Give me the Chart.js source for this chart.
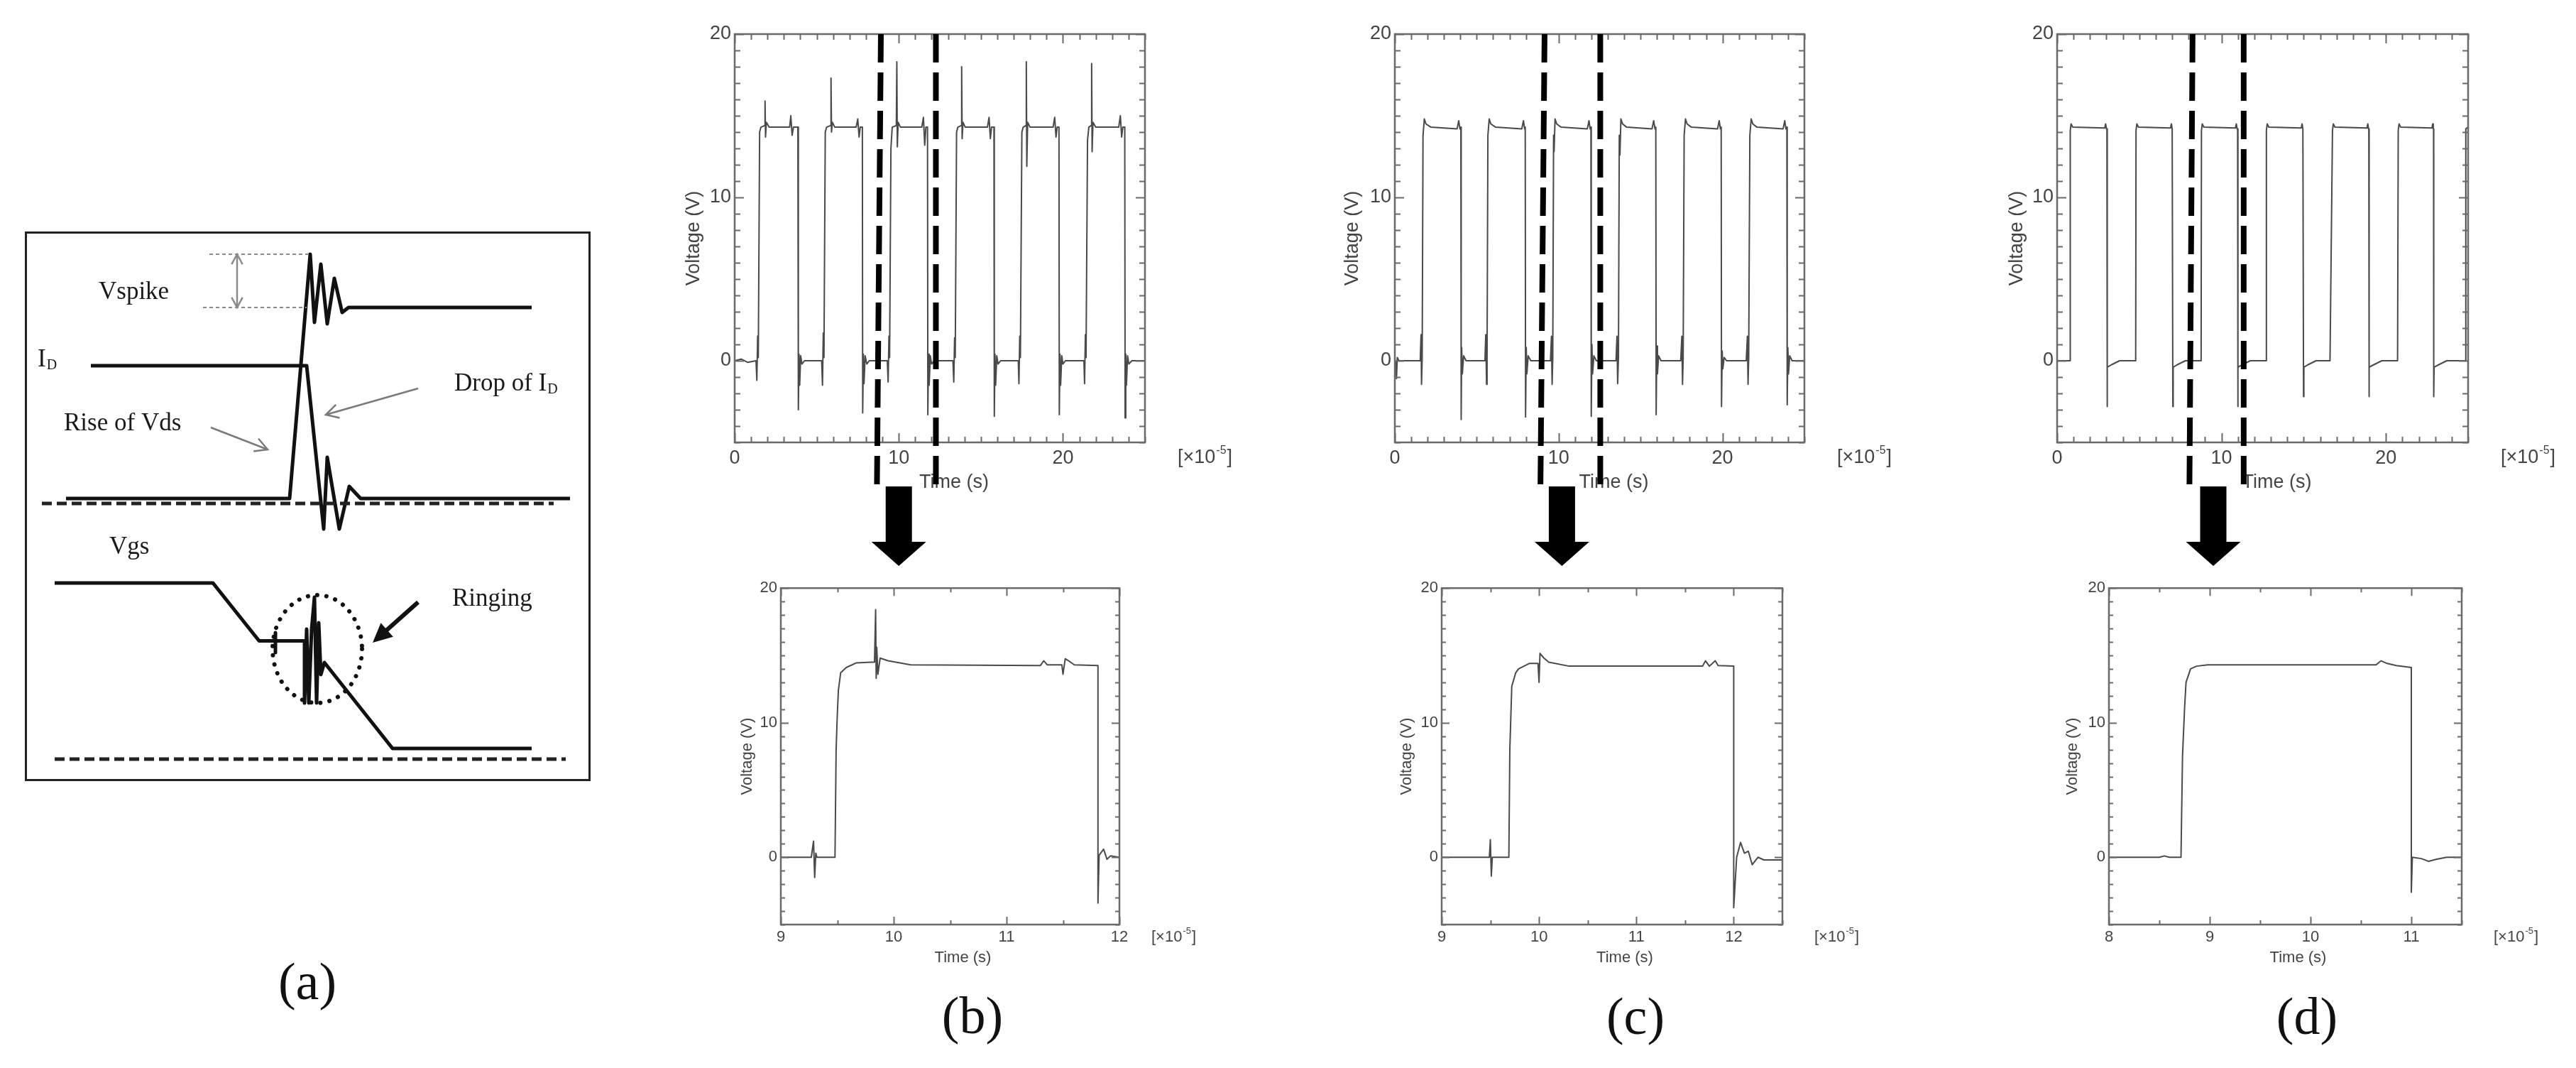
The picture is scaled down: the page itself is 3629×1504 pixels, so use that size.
<!DOCTYPE html>
<html><head><meta charset="utf-8">
<script src="https://cdn.jsdelivr.net/npm/chart.js@4.4.1/dist/chart.umd.min.js"></script>
<style>
html,body{margin:0;padding:0;background:#fff;}
body{width:3629px;height:1504px;position:relative;overflow:hidden;}
canvas{position:absolute;}
.plbl{position:absolute;font-family:'Liberation Serif','DejaVu Serif',serif;font-size:74px;color:#111;transform:translate(-50%,-50%);line-height:1;white-space:nowrap;}
</style></head><body>
<canvas id="ca"></canvas>
<canvas id="tb"></canvas><canvas id="tc"></canvas><canvas id="td"></canvas>
<canvas id="bb"></canvas><canvas id="bc"></canvas><canvas id="bd"></canvas>
<div class="plbl" style="left:433px;top:1382px">(a)</div>
<div class="plbl" style="left:1370px;top:1430px">(b)</div>
<div class="plbl" style="left:2304px;top:1431px">(c)</div>
<div class="plbl" style="left:3250px;top:1431px">(d)</div>
<script>
// ================= DATA =================
// Top traces: [time (x1e-5 s), voltage (V)]
const topB = [[0,0],[0.4,0.1],[0.8,-0.1],[1.3,0],[1.35,-1.2],[1.4,1.5],[1.44,0.2],[1.52,14.0],[1.6,14.3],[1.82,14.4],[1.85,15.9],[1.88,13.7],[1.93,14.6],[2.1,14.3],[3.35,14.3],[3.42,15.0],[3.5,13.8],[3.58,14.3],[3.85,14.3],[3.88,-3.0],[3.92,0.4],[3.96,-1.5],[4.02,0.3],[4.1,-0.2],[4.25,0],
[5.3,0],[5.35,-1.5],[5.4,1.7],[5.44,0.2],[5.52,14.0],[5.6,14.3],[5.84,14.4],[5.87,17.3],[5.9,14.0],[5.95,14.6],[6.1,14.3],[7.4,14.3],[7.5,14.8],[7.58,13.7],[7.65,14.3],[7.78,14.3],[7.8,-3.2],[7.84,0.4],[7.88,-1.4],[7.95,0.3],[8.05,-0.2],[8.2,0],
[9.3,0],[9.35,-1.3],[9.4,1.5],[9.44,0.2],[9.52,13.0],[9.6,14.3],[9.85,14.4],[9.88,18.3],[9.91,13.1],[9.96,14.6],[10.1,14.3],[11.4,14.3],[11.5,14.9],[11.58,13.2],[11.65,14.3],[11.75,14.3],[11.77,-3.3],[11.81,0.4],[11.85,-1.5],[11.92,0.3],[12.0,-0.2],[12.15,0],
[13.3,0],[13.35,-1.3],[13.4,1.4],[13.44,0.2],[13.52,14.0],[13.6,14.3],[13.8,14.4],[13.83,18.0],[13.86,13.6],[13.91,14.6],[14.05,14.3],[15.4,14.3],[15.5,14.9],[15.58,13.6],[15.65,14.3],[15.8,14.3],[15.82,-3.4],[15.86,0.4],[15.9,-1.5],[15.97,0.3],[16.05,-0.2],[16.2,0],
[17.28,0],[17.32,-1.4],[17.37,1.5],[17.41,0.2],[17.5,14.0],[17.58,14.3],[17.74,14.4],[17.77,18.3],[17.8,11.9],[17.85,14.6],[18.0,14.3],[19.4,14.3],[19.5,14.9],[19.58,13.7],[19.65,14.3],[19.76,14.3],[19.78,-3.3],[19.82,0.4],[19.86,-1.5],[19.93,0.3],[20.0,-0.2],[20.15,0],
[21.28,0],[21.32,-1.4],[21.37,1.6],[21.41,0.2],[21.5,13.5],[21.58,14.3],[21.72,14.4],[21.75,18.2],[21.78,12.8],[21.83,14.6],[22.0,14.3],[23.4,14.3],[23.5,15.0],[23.58,13.7],[23.65,14.3],[23.77,14.3],[23.79,-3.5],[23.83,0.4],[23.87,-1.5],[23.94,0.3],[24.02,-0.2],[24.2,0],[25,0]];

const topC = [[0,0],[0.05,0],[0.1,-1.1],[0.15,0.2],[0.25,0],[1.55,0],[1.6,1.6],[1.63,-1.45],[1.67,0.2],[1.72,13.8],[1.8,14.8],[1.9,14.5],[2.2,14.3],[3.8,14.2],[3.9,14.7],[3.97,14.2],[4.03,14.3],[4.05,-3.6],[4.08,0.8],[4.12,-0.8],[4.2,0.3],[4.35,0],
[5.5,0],[5.55,1.6],[5.6,-1.45],[5.63,0.2],[5.68,13.8],[5.76,14.8],[5.86,14.5],[6.15,14.3],[7.75,14.2],[7.85,14.7],[7.92,14.2],[7.96,14.3],[7.98,-3.45],[8.02,0.8],[8.06,-0.8],[8.14,0.3],[8.3,0],
[9.5,0],[9.56,1.5],[9.6,-1.45],[9.64,0.2],[9.69,13.8],[9.72,12.8],[9.78,14.8],[9.88,14.5],[10.15,14.3],[11.75,14.2],[11.85,14.7],[11.92,14.2],[11.97,14.3],[11.99,-3.4],[12.03,1.0],[12.07,-0.8],[12.15,0.3],[12.3,0],
[13.5,0],[13.56,1.5],[13.6,-1.4],[13.65,0.2],[13.7,13.8],[13.74,12.6],[13.8,14.8],[13.9,14.5],[14.15,14.3],[15.7,14.2],[15.8,14.7],[15.88,14.2],[15.93,14.3],[15.95,-3.3],[15.99,0.9],[16.03,-0.8],[16.1,0.3],[16.25,0],
[17.45,0],[17.52,1.5],[17.56,-1.45],[17.6,0.2],[17.66,13.8],[17.74,14.8],[17.84,14.5],[18.1,14.3],[19.7,14.2],[19.8,14.7],[19.87,14.2],[19.92,14.3],[19.94,-2.8],[19.98,0.6],[20.02,-0.5],[20.1,0.2],[20.25,0],
[21.45,0],[21.52,1.5],[21.56,-1.45],[21.6,0.2],[21.67,13.8],[21.75,14.8],[21.85,14.5],[22.1,14.3],[23.7,14.2],[23.8,14.7],[23.87,14.2],[23.93,14.3],[23.95,-2.7],[23.99,0.8],[24.03,-0.8],[24.1,0.3],[24.25,0],[25,0]];

const topD = [[0,0],[0.78,0],[0.8,14.1],[0.85,14.5],[0.95,14.3],[2.9,14.25],[2.95,14.5],[3.0,14.2],[3.03,14.2],[3.04,-2.8],[3.06,-0.4],[3.3,-0.25],[3.8,0],
[4.78,0],[4.8,14.1],[4.85,14.5],[4.95,14.3],[6.9,14.25],[6.95,14.5],[7.0,14.2],[7.03,14.2],[7.04,-2.8],[7.06,-0.4],[7.3,-0.25],[7.8,0],
[8.76,0],[8.78,14.1],[8.83,14.5],[8.93,14.3],[10.85,14.25],[10.9,14.5],[10.95,14.2],[10.98,14.2],[10.99,-2.8],[11.01,-0.4],[11.25,-0.25],[11.75,0],
[12.71,0],[12.73,14.1],[12.78,14.5],[12.88,14.3],[14.85,14.25],[14.9,14.5],[14.95,14.2],[14.98,14.2],[14.99,-2.2],[15.01,-0.4],[15.25,-0.25],[15.75,0],
[16.6,0],[16.75,14.1],[16.8,14.5],[16.9,14.3],[18.85,14.25],[18.9,14.5],[18.94,14.2],[18.96,14.2],[18.97,-2.2],[18.99,-0.4],[19.25,-0.25],[19.75,0],
[20.71,0],[20.75,14.1],[20.8,14.5],[20.9,14.3],[22.8,14.25],[22.85,14.5],[22.88,14.2],[22.9,14.2],[22.91,-2.2],[22.93,-0.4],[23.2,-0.25],[23.7,0],
[24.83,0],[24.86,14.2],[25,14.3]];

// Zoomed traces
const botB = [[9,0],[9.27,0],[9.29,1.2],[9.3,-1.5],[9.31,0.3],[9.32,0],[9.48,0],[9.49,8.0],[9.5,10.5],[9.51,12.4],[9.53,13.7],[9.58,14.1],[9.67,14.45],[9.8,14.5],[9.83,14.5],[9.84,18.4],[9.845,13.3],[9.85,15.6],[9.86,13.6],[9.88,14.8],[9.95,14.6],[10.15,14.3],[11.3,14.25],[11.33,14.6],[11.36,14.3],[11.49,14.3],[11.5,13.6],[11.52,14.75],[11.55,14.6],[11.6,14.3],[11.81,14.25],[11.81,-3.4],[11.82,0.15],[11.86,0.6],[11.89,-0.15],[11.92,0.1],[12,0]];
const botC = [[9,0],[9.49,0],[9.5,1.3],[9.51,-1.4],[9.52,0],[9.69,0],[9.7,8.0],[9.72,12.7],[9.76,13.7],[9.79,14.0],[9.9,14.4],[9.99,14.4],[10.0,13.0],[10.01,15.15],[10.05,14.8],[10.1,14.5],[10.31,14.2],[11.68,14.2],[11.71,14.6],[11.75,14.2],[11.81,14.6],[11.84,14.25],[12.0,14.2],[12.0,-3.75],[12.03,0],[12.07,1.1],[12.11,0.3],[12.15,0.45],[12.19,-0.55],[12.25,0],[12.31,-0.2],[12.5,-0.2]];
const botD = [[8,0],[8.5,0],[8.55,0.1],[8.6,0],[8.715,0],[8.73,7.5],[8.75,11.0],[8.765,13.0],[8.81,14.0],[8.87,14.2],[8.98,14.3],[10.65,14.3],[10.7,14.6],[10.76,14.4],[10.85,14.25],[11.0,14.1],[11.0,-2.6],[11.01,0],[11.1,-0.1],[11.17,-0.3],[11.25,-0.15],[11.35,0],[11.5,0]];

// Tick labels
const topXTicks = [0, 10, 20];
const botBXTicks = [9, 10, 11, 12];
const botCXTicks = [9, 10, 11, 12];
const botDXTicks = [8, 9, 10, 11];
const yTicks = [0, 10, 20];

// Zoom window markers (dashed lines) in top plots: [value at top, value at bottom]
const topBMarks = [[8.91, 8.67], [12.26, 12.26]];
const topCMarks = [[9.14, 8.89], [12.54, 12.54]];
const topDMarks = [[8.24, 8.05], [11.35, 11.35]];
const topBArrowAt = 10.0, topCArrowAt = 10.2, topDArrowAt = 9.5;

// Schematic (a) in diagram units (x: time, y: level)
const diagVds = [[58,398],[373,398],[402,742],[408,646],[417,728],[426,644],[436,708],[447,660],[456,667],[714,667]];
const diagId = [[93,585],[397,585],[421,355],[426,456],[443,355],[457,415],[473,398],[768,398]];
const diagVgs = [[42,279],[265,279],[330,197.5],[353,197.5],[353,181],[353,209],[353,197.5],[394,197.5],[394,110],[397,214],[400,110],[404,214],[408,259],[411,110],[414,223],[417,150],[422,167],[518,46],[714,46]];
const diagBase1 = [[24,391],[745,391]];
const diagBase2 = [[42,31],[762,31]];
const diagGuideTop = [[260,742],[403,742]];
const diagGuideBot = [[251,667],[397,667]];

// ================= RENDER =================
Chart.defaults.animation = false;
const SANS = "'Liberation Sans', Arial, sans-serif";
const SERIF = "'Liberation Serif', 'DejaVu Serif', serif";

function place(id, left, top, w, h) {
  const c = document.getElementById(id);
  c.width = w; c.height = h;
  c.style.left = left + 'px'; c.style.top = top + 'px';
  c.style.width = w + 'px'; c.style.height = h + 'px';
  return c;
}

function isMult(v, m) { return Math.abs(v / m - Math.round(v / m)) < 1e-6; }

const framePlugin = {
  id: 'frame',
  afterDatasetsDraw(chart, args, o) {
    const {ctx, chartArea: {left, right, top, bottom}, scales: {x, y}} = chart;
    ctx.save();
    ctx.strokeStyle = '#6a6a6a';
    ctx.lineWidth = 2;
    ctx.beginPath();
    const nx = Math.round((x.max - x.min) / o.xStep);
    for (let i = 0; i <= nx; i++) {
      const v = x.min + i * o.xStep;
      const p = Math.round(x.getPixelForValue(v)) + 0.5;
      const L = isMult(v, o.xMajor) ? o.majorLen : o.minorLen;
      ctx.moveTo(p, bottom); ctx.lineTo(p, bottom - L);
      ctx.moveTo(p, top); ctx.lineTo(p, top + L);
    }
    const ny = Math.round((y.max - y.min) / o.yStep);
    for (let i = 0; i <= ny; i++) {
      const v = y.min + i * o.yStep;
      const p = Math.round(y.getPixelForValue(v)) + 0.5;
      const L = isMult(v, o.yMajor) ? o.majorLen : o.minorLen;
      ctx.moveTo(left, p); ctx.lineTo(left + L, p);
      ctx.moveTo(right, p); ctx.lineTo(right - L, p);
    }
    ctx.stroke();
    ctx.lineWidth = 2.5;
    ctx.strokeRect(left, top, right - left, bottom - top);
    const fs = o.fontSize;
    ctx.fillStyle = '#444';
    ctx.textBaseline = 'middle';
    // x axis title, slightly right of centre as in the original
    ctx.textAlign = 'center';
    ctx.font = fs + 'px ' + SANS;
    ctx.fillText('Time (s)', (left + right) / 2 + o.titleDx, x.bottom - 4 - fs * 0.6);
    // unit label [x10^-5]
    const ux = right + o.unitDx, uy = bottom + o.unitDy;
    ctx.textAlign = 'left';
    const a = '[\u00d710';
    ctx.fillText(a, ux, uy);
    const wa = ctx.measureText(a).width;
    ctx.font = Math.round(fs * 0.6) + 'px ' + SANS;
    ctx.fillText('-5', ux + wa + 1, uy - fs * 0.38);
    const wb = ctx.measureText('-5').width;
    ctx.font = fs + 'px ' + SANS;
    ctx.fillText(']', ux + wa + wb + 2, uy);
    ctx.restore();
  }
};

const markPlugin = {
  id: 'marks',
  afterDraw(chart, args, o) {
    if (!o || !o.marks) return;
    const {ctx, chartArea, scales: {x}} = chart;
    ctx.save();
    ctx.strokeStyle = '#000'; ctx.lineWidth = 8; ctx.setLineDash([40, 14]);
    for (const [vt, vb] of o.marks) {
      ctx.beginPath();
      ctx.moveTo(x.getPixelForValue(vt), chartArea.top);
      ctx.lineTo(x.getPixelForValue(vb), o.markBottom);
      ctx.stroke();
    }
    ctx.setLineDash([]);
    const cx = x.getPixelForValue(o.arrowAt);
    ctx.fillStyle = '#000';
    ctx.beginPath();
    ctx.moveTo(cx - 18.5, o.arrowTop);
    ctx.lineTo(cx + 18.5, o.arrowTop);
    ctx.lineTo(cx + 18.5, o.arrowNeck);
    ctx.lineTo(cx + 38.5, o.arrowNeck);
    ctx.lineTo(cx, o.arrowTip);
    ctx.lineTo(cx - 38.5, o.arrowNeck);
    ctx.lineTo(cx - 18.5, o.arrowNeck);
    ctx.closePath();
    ctx.fill();
    ctx.restore();
  }
};

function scopeChart(L) {
  const c = place(L.id, L.left, L.top, L.canvasR - L.left, L.height);
  const font = {family: SANS, size: L.fs};
  return new Chart(c, {
    type: 'line',
    data: {datasets: [{
      data: L.pts.map(p => ({x: p[0], y: p[1]})),
      borderColor: '#4a4a4a', borderWidth: L.lw, pointRadius: 0,
      borderJoinStyle: 'round', tension: 0, fill: false
    }]},
    options: {
      responsive: false, animation: false, events: [],
      layout: {padding: {top: L.padTop, right: L.canvasR - L.plotR, bottom: L.padBottom, left: 0}},
      plugins: {
        legend: {display: false}, tooltip: {enabled: false},
        frame: {xStep: L.xStep, xMajor: L.xMajor, yStep: 1, yMajor: 10, minorLen: L.minorLen, majorLen: L.majorLen, fontSize: L.fs, unitDx: L.unitDx, unitDy: L.unitDy, titleDx: L.titleDx},
        marks: L.marks ? {marks: L.marks, arrowAt: L.arrowAt, markBottom: 682, arrowTop: 685, arrowNeck: 763, arrowTip: 797} : {}
      },
      scales: {
        x: {
          type: 'linear', min: L.xmin, max: L.xmax,
          grid: {display: false, drawTicks: false}, border: {display: false},
          afterBuildTicks: s => { s.ticks = L.xTicks.map(v => ({value: v})); },
          ticks: {autoSkip: false, maxRotation: 0, padding: L.tickPadX, font, color: '#444'},
          title: {display: false},
          afterFit: s => { s.height = L.xh; }
        },
        y: {
          type: 'linear', min: -5, max: 20,
          grid: {display: false, drawTicks: false}, border: {display: false},
          afterBuildTicks: s => { s.ticks = yTicks.map(v => ({value: v})); },
          ticks: {autoSkip: false, padding: 5, font, color: '#444'},
          title: {display: true, text: 'Voltage (V)', font, color: '#444', padding: {top: 4, bottom: 0}},
          afterFit: s => { s.width = L.yw; }
        }
      }
    },
    plugins: [framePlugin, markPlugin]
  });
}

const topCommon = {top: 0, height: 810, padTop: 48, padBottom: 110, xh: 77, fs: 27, lw: 2, xmin: 0, xmax: 25, xTicks: topXTicks, xStep: 1, xMajor: 10, minorLen: 8, majorLen: 13, unitDx: 46, unitDy: 22, tickPadX: 6, titleDx: 20};
scopeChart(Object.assign({}, topCommon, {id: 'tb', left: 957, yw: 78, plotR: 1613, canvasR: 1760, pts: topB, marks: topBMarks, arrowAt: topBArrowAt}));
scopeChart(Object.assign({}, topCommon, {id: 'tc', left: 1885, yw: 80, plotR: 2542, canvasR: 2690, pts: topC, marks: topCMarks, arrowAt: topCArrowAt}));
scopeChart(Object.assign({}, topCommon, {id: 'td', left: 2821, yw: 77, plotR: 3477, canvasR: 3629, pts: topD, marks: topDMarks, arrowAt: topDArrowAt}));

const botCommon = {top: 810, height: 570, padTop: 17, padBottom: 14, xh: 64, fs: 22, lw: 2, xStep: 0.5, xMajor: 1, minorLen: 6, majorLen: 11, unitDx: 45, unitDy: 18, tickPadX: 5, titleDx: 18};
scopeChart(Object.assign({}, botCommon, {id: 'bb', left: 1036, yw: 64, plotR: 1577, canvasR: 1700, pts: botB, xmin: 9, xmax: 12, xTicks: botBXTicks}));
scopeChart(Object.assign({}, botCommon, {id: 'bc', left: 1965, yw: 66, plotR: 2511, canvasR: 2630, pts: botC, xmin: 9, xmax: 12.5, xTicks: botCXTicks}));
scopeChart(Object.assign({}, botCommon, {id: 'bd', left: 2903, yw: 68, plotR: 3468, canvasR: 3600, pts: botD, xmin: 8, xmax: 11.5, xTicks: botDXTicks}));

// ---------- Schematic (a) ----------
const diagArrows = [
  {from: [262, 498], to: [342, 467], color: '#7a7a7a', width: 2.5, head: 'open', len: 20},
  {from: [554, 553], to: [424, 516], color: '#7a7a7a', width: 2.5, head: 'open', len: 20},
  {from: [554, 252], to: [490, 195], color: '#111', width: 6, head: 'filled', len: 30},
  {from: [299, 704], to: [299, 742], color: '#8a8a8a', width: 2.5, head: 'open', len: 16},
  {from: [299, 704], to: [299, 667], color: '#8a8a8a', width: 2.5, head: 'open', len: 16}
];
const diagEllipse = {cx: 412, cy: 186, rx: 63, ry: 76};
const diagTexts = [
  {t: 'Vspike', x: 104, y: 688},
  {t: 'I', sub: 'D', x: 18, y: 593},
  {t: 'Rise of Vds', x: 55, y: 503},
  {t: 'Drop of I', sub: 'D', x: 605, y: 559},
  {t: 'Vgs', x: 119, y: 329},
  {t: 'Ringing', x: 602, y: 256}
];

const diagPlugin = {
  id: 'diag',
  afterDraw(chart) {
    const {ctx, chartArea: ca, scales: {x, y}} = chart;
    const X = v => x.getPixelForValue(v), Y = v => y.getPixelForValue(v);
    ctx.save();
    ctx.strokeStyle = '#222'; ctx.lineWidth = 3;
    ctx.strokeRect(ca.left + 1.5, ca.top + 1.5, ca.right - ca.left - 3, ca.bottom - ca.top - 3);
    const e = diagEllipse;
    ctx.beginPath();
    ctx.ellipse(X(e.cx), Y(e.cy), Math.abs(X(e.cx + e.rx) - X(e.cx)), Math.abs(Y(e.cy + e.ry) - Y(e.cy)), 0, 0, Math.PI * 2);
    ctx.setLineDash([0.1, 13]); ctx.lineCap = 'round'; ctx.lineWidth = 6; ctx.strokeStyle = '#111';
    ctx.stroke();
    ctx.setLineDash([]); ctx.lineCap = 'butt';
    for (const a of diagArrows) {
      const x1 = X(a.from[0]), y1 = Y(a.from[1]), x2 = X(a.to[0]), y2 = Y(a.to[1]);
      const ang = Math.atan2(y2 - y1, x2 - x1);
      ctx.strokeStyle = a.color; ctx.fillStyle = a.color; ctx.lineWidth = a.width;
      const back = a.head === 'filled' ? a.len * 0.8 : 0;
      ctx.beginPath(); ctx.moveTo(x1, y1);
      ctx.lineTo(x2 - back * Math.cos(ang), y2 - back * Math.sin(ang)); ctx.stroke();
      const sp = a.head === 'filled' ? 0.45 : 0.5;
      const hx1 = x2 - a.len * Math.cos(ang - sp), hy1 = y2 - a.len * Math.sin(ang - sp);
      const hx2 = x2 - a.len * Math.cos(ang + sp), hy2 = y2 - a.len * Math.sin(ang + sp);
      ctx.beginPath();
      if (a.head === 'filled') {
        ctx.moveTo(x2, y2); ctx.lineTo(hx1, hy1); ctx.lineTo(hx2, hy2); ctx.closePath(); ctx.fill();
      } else {
        ctx.moveTo(hx1, hy1); ctx.lineTo(x2, y2); ctx.lineTo(hx2, hy2); ctx.stroke();
      }
    }
    ctx.fillStyle = '#1a1a1a'; ctx.textBaseline = 'middle'; ctx.textAlign = 'left';
    for (const t of diagTexts) {
      ctx.font = '35px ' + SERIF;
      const px = X(t.x), py = Y(t.y);
      ctx.fillText(t.t, px, py);
      if (t.sub) {
        const w = ctx.measureText(t.t).width;
        ctx.font = '20px ' + SERIF;
        ctx.fillText(t.sub, px + w + 1, py + 8);
      }
    }
    ctx.restore();
  }
};

(function () {
  const W = 797, H = 774;
  const c = place('ca', 35, 326, W, H);
  const line = (pts, opts) => Object.assign({
    data: pts.map(p => ({x: p[0], y: p[1]})), showLine: true, pointRadius: 0,
    borderColor: '#111', borderWidth: 5, borderJoinStyle: 'round', borderCapStyle: 'butt', tension: 0, fill: false
  }, opts || {});
  new Chart(c, {
    type: 'scatter',
    data: {datasets: [
      line(diagBase1, {borderDash: [14, 7], borderColor: '#222'}),
      line(diagBase2, {borderDash: [14, 7], borderColor: '#222'}),
      line(diagGuideTop, {borderDash: [5, 4], borderWidth: 2, borderColor: '#8a8a8a'}),
      line(diagGuideBot, {borderDash: [5, 4], borderWidth: 2, borderColor: '#8a8a8a'}),
      line(diagVds),
      line(diagId),
      line(diagVgs)
    ]},
    options: {
      responsive: false, animation: false, events: [],
      layout: {padding: 0},
      plugins: {legend: {display: false}, tooltip: {enabled: false}},
      scales: {
        x: {type: 'linear', min: 0, max: W, display: false},
        y: {type: 'linear', min: 0, max: H, display: false}
      }
    },
    plugins: [diagPlugin]
  });
})();
</script>
</body></html>
